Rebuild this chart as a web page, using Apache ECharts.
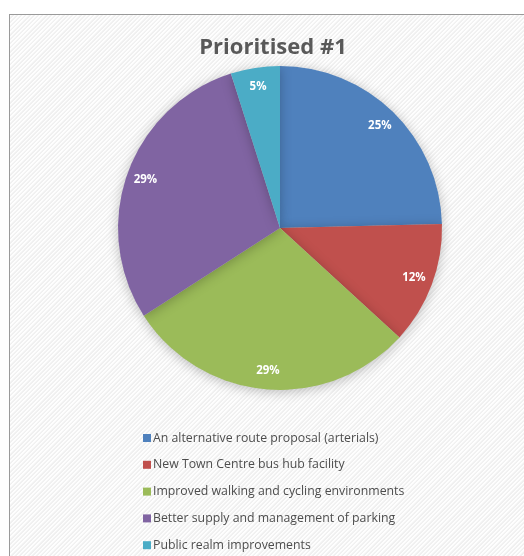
<!DOCTYPE html>
<html>
<head>
<meta charset="utf-8">
<script src="https://cdn.jsdelivr.net/npm/echarts@6/dist/echarts.min.js"></script>
<style>
html,body{margin:0;padding:0;background:#fff;width:524px;height:556px;overflow:hidden;}
#frame{position:absolute;left:9px;top:14px;width:530px;height:560px;border:1px solid #9a9a9a;
background-color:#f5f5f5;
background-image:repeating-linear-gradient(135deg, rgba(255,255,255,0.9) 0px, rgba(255,255,255,0.9) 1px, rgba(235,235,235,0.5) 2px, rgba(235,235,235,0.5) 3px);}
#chart{position:absolute;left:0;top:0;width:524px;height:556px;}
</style>
</head>
<body>
<div id="frame"></div>
<div id="chart"></div>
<script>
const titleText = "Prioritised #1";
const categories = [
  "An alternative route proposal (arterials)",
  "New Town Centre bus hub facility",
  "Improved walking and cycling environments",
  "Better supply and management of parking",
  "Public realm improvements"
];
const values = [24.6, 12.2, 29.1, 29.2, 4.9];
const colors = ["#4F81BD", "#C0504D", "#9BBB59", "#8064A2", "#4BACC6"];

const chart = echarts.init(document.getElementById('chart'), null, {renderer: 'canvas'});
const total = values.reduce((a, b) => a + b, 0);
const pieData = categories.map((c, i) => ({name: c, value: values[i], itemStyle: {color: colors[i]}}));
const labelData = categories.map((c, i) => ({name: c + ' ', value: values[i]}));

chart.setOption({
  backgroundColor: 'transparent',
  animation: false,
  title: {
    text: titleText,
    left: 268, textAlign: 'center',
    top: 32,
    textStyle: {fontFamily: 'Open Sans', fontSize: 22, fontWeight: 'bold', color: '#595959'}
  },
  legend: {
    data: categories,
    orient: 'vertical',
    left: 143,
    top: 432,
    padding: 0,
    itemWidth: 8,
    itemHeight: 8,
    itemGap: 14.8,
    icon: 'rect',
    textStyle: {fontFamily: 'Open Sans', fontSize: 12.3, color: '#4d4d4d', padding: [0, 0, 0, -3]},
    selectedMode: false
  },
  series: [
    {
      type: 'pie',
      center: [280, 228],
      radius: [0, 162],
      startAngle: 90,
      clockwise: true,
      label: {show: false},
      labelLine: {show: false},
      emphasis: {disabled: true},
      itemStyle: {shadowBlur: 12, shadowColor: 'rgba(0,0,0,0.25)', shadowOffsetY: 2},
      data: pieData
    },
    {
      type: 'pie',
      center: [280, 228],
      radius: [118, 162],
      startAngle: 90,
      clockwise: true,
      silent: true,
      itemStyle: {color: 'rgba(0,0,0,0)'},
      labelLine: {show: false},
      emphasis: {disabled: true},
      label: {
        show: true,
        position: 'inside',
        formatter: p => Math.round(p.value / total * 100) + '%',
        fontFamily: 'Open Sans', fontSize: 11.5, fontWeight: 'bold', color: '#ffffff'
      },
      data: labelData
    }
  ]
});
</script>
</body>
</html>
